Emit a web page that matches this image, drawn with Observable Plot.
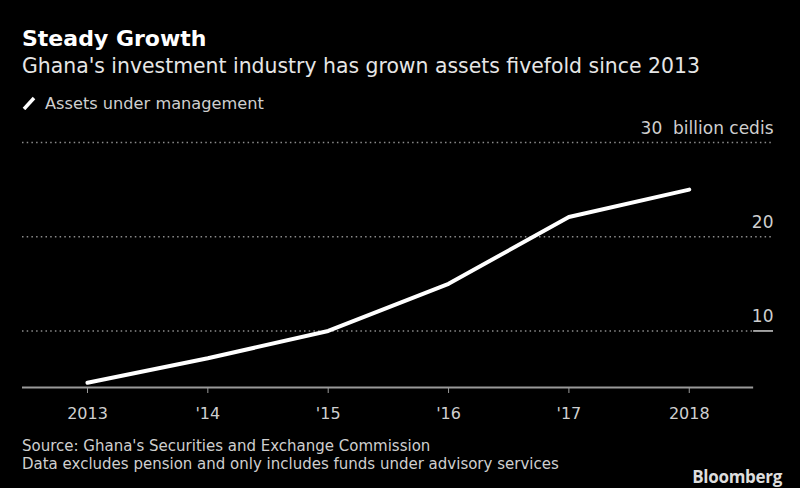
<!DOCTYPE html>
<html><head><meta charset="utf-8">
<script src="https://cdn.jsdelivr.net/npm/d3@7"></script>
<script src="https://cdn.jsdelivr.net/npm/@observablehq/plot@0.6"></script>
<style>
body{margin:0;background:#000;}
#wrap{position:relative;width:800px;height:488px;background:#000;font-family:"DejaVu Sans",sans-serif;color:#cfcfcf;overflow:hidden}
.t{position:absolute;left:22px;white-space:nowrap;line-height:1}
#chart{position:absolute;left:0;top:110px}
</style></head><body>
<div id="wrap">
<div class="t" style="top:28px;font-size:22px;font-weight:700;color:#fff">Steady Growth</div>
<div class="t" style="top:56px;font-size:20.4px;color:#e6e6e6">Ghana's investment industry has grown assets fivefold since 2013</div>
<div class="t" style="top:96px;font-size:16.2px;color:#cfcfcf"><svg width="14" height="14" style="vertical-align:-1px;margin-right:9px"><line x1="2" y1="13" x2="12" y2="2" stroke="#fff" stroke-width="3.5"/></svg>Assets under management</div>
<div class="t" style="top:439px;font-size:15px">Source: Ghana's Securities and Exchange Commission</div>
<div class="t" style="top:457px;font-size:15px">Data excludes pension and only includes funds under advisory services</div>
<div class="t" style="left:auto;right:18px;top:468px;font-size:17px;font-weight:700;color:#ddd;letter-spacing:-0.3px;font-family:'Open Sans',sans-serif">Bloomberg</div>
<div id="chart"></div>
</div>
<script>
const years = [2013, 2014, 2015, 2016, 2017, 2018];
const yearLabels = ["2013", "'14", "'15", "'16", "'17", "2018"];
const assets = [4.5, 7.1, 10.0, 15.0, 22.1, 25.0];
const gridValues = [10, 20, 30];
const gridLabels = ["10", "20", "30 \u00a0billion cedis"];
const xDomain = [2012.46, 2018.70];
const axisEnd = 2018.535;
const yDomain = [4, 30];

const data = years.map((y, i) => ({year: y, value: assets[i]}));
const grid = gridValues.map((v, i) => ({v, label: gridLabels[i], x2: v === 10 ? axisEnd : xDomain[1]}));

const chart = Plot.plot({
  width: 800,
  height: 320,
  marginLeft: 22,
  marginRight: 27,
  marginTop: 32,
  marginBottom: 43,
  style: {background: "transparent", color: "#cfcfcf", fontFamily: "DejaVu Sans, sans-serif"},
  x: {domain: xDomain, axis: null},
  y: {domain: yDomain, axis: null},
  marks: [
    Plot.ruleY(grid, {y: "v", x1: xDomain[0], x2: "x2", stroke: "#8c8c8c", strokeWidth: 1.5, strokeDasharray: "1.5,3.2"}),
    Plot.ruleY([10], {x1: axisEnd, x2: xDomain[1], stroke: "#cfcfcf", strokeWidth: 1.5}),
    Plot.ruleY([yDomain[0]], {x1: xDomain[0], x2: axisEnd, stroke: "#9a9a9a", strokeWidth: 2}),
    Plot.axisX(years, {tickFormat: d => yearLabels[years.indexOf(d)], tickSize: 6, tickPadding: 14, stroke: "#9a9a9a", fill: "#cfcfcf", fontSize: 16}),
    Plot.line(data, {x: "year", y: "value", stroke: "#fff", strokeWidth: 4}),
    Plot.text(grid, {x: () => xDomain[1], y: "v", text: "label", textAnchor: "end", lineAnchor: "bottom", dy: -9, fontSize: 17, fill: "#cfcfcf"})
  ]
});
document.getElementById("chart").appendChild(chart);
</script>
</body></html>
